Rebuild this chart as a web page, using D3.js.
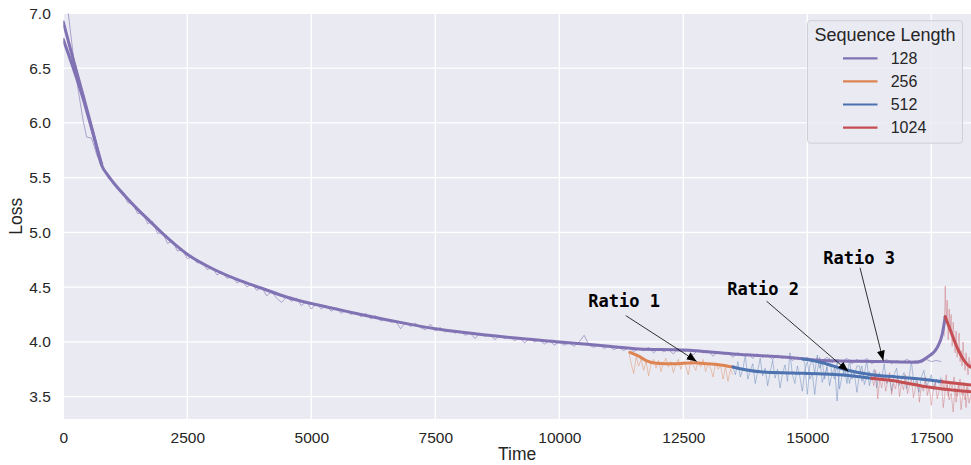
<!DOCTYPE html>
<html><head><meta charset="utf-8">
<script src="https://cdn.jsdelivr.net/npm/d3@7"></script>
<style>body{margin:0;background:#fff}svg{display:block}</style>
</head><body>
<script>
// ---------------- DATA ----------------
const seriesNames = ["128", "256", "512", "1024"];
const seriesColors = ["#8172B3", "#DD8452", "#4C72B0", "#C44E52"];
const xTicks = [0, 2500, 5000, 7500, 10000, 12500, 15000, 17500];
const yTicks = [3.5, 4.0, 4.5, 5.0, 5.5, 6.0, 6.5, 7.0];

// smoothed (thick) curves
const mainTime = [0,200,400,600,775,900,1000,1250,1500,1750,2000,2250,2500,3000,3500,4000,4500,5000,5500,6000,7000,7500,8000,9000,10000,11000,11600,12500,13500,14700,15300,16500,17200,17420,17620,17720,17780];
const mainLoss = [6.92,6.58,6.25,5.91,5.61,5.52,5.46,5.33,5.21,5.10,4.99,4.89,4.80,4.67,4.57,4.49,4.41,4.35,4.30,4.25,4.16,4.12,4.09,4.04,4.00,3.96,3.936,3.925,3.89,3.855,3.83,3.82,3.815,3.86,3.95,4.07,4.23];
const startTime = [0,200,400,600,775];
const startLoss = [6.76,6.50,6.22,5.90,5.62];
const orangeTime = [11425,11600,11750,11960,12300,12700,13000,13250,13500];
const orangeLoss = [3.905,3.87,3.83,3.805,3.80,3.81,3.80,3.79,3.77];
const blueATime = [13500,13750,14100,14700,15300,16000,16300];
const blueALoss = [3.77,3.745,3.725,3.716,3.707,3.685,3.667];
const redATime = [16300,16850,17400,17730,18300];
const redALoss = [3.667,3.637,3.59,3.57,3.545];
const blueBTime = [14900,15300,15790,16300,16800,17400,17720];
const blueBLoss = [3.845,3.81,3.744,3.70,3.68,3.655,3.637];
const redBTime = [17720,18300];
const redBLoss = [3.637,3.607];
const redCTime = [17780,17890,18020,18160,18260,18300];
const redCLoss = [4.23,4.10,3.95,3.83,3.78,3.77];

// raw (thin) curves
const rawPurpleEarlyTime = [0,100,200,300,400,470,570,680];
const rawPurpleEarlyLoss = [7.6,7.0,6.62,6.30,6.02,5.87,5.86,5.70];
const rawPurpleStart = 800, rawPurpleStep = 100;
const rawPurpleLoss = [5.60,5.50,5.47,5.39,5.36,5.27,5.26,5.17,5.18,5.08,5.10,4.99,5.00,4.90,4.92,4.83,4.84,4.76,4.78,4.72,4.73,4.66,4.68,4.61,4.64,4.58,4.60,4.54,4.56,4.50,4.53,4.47,4.50,4.42,4.46,4.40,4.36,4.41,4.37,4.40,4.33,4.37,4.30,4.35,4.30,4.33,4.28,4.31,4.26,4.29,4.25,4.27,4.23,4.26,4.21,4.24,4.19,4.21,4.18,4.19,4.12,4.18,4.14,4.17,4.13,4.11,4.16,4.10,4.13,4.09,4.11,4.08,4.10,4.06,4.08,4.03,4.08,4.05,4.07,4.02,4.06,4.03,4.05,4.01,4.04,3.99,4.03,4.00,4.02,3.98,4.01,3.97,4.00,3.97,3.99,3.96,4.00,4.06,3.97,3.95,3.98,3.94,3.96,3.93,3.95,3.92,3.95,3.91,3.94,3.92,3.95,3.90,3.94,3.91,3.93,3.89,3.94,3.91,3.92,3.88,3.93,3.90,3.92,3.87,3.91,3.89,3.90,3.86,3.90,3.88,3.89,3.85,3.89,3.86,3.88,3.84,3.88,3.85,3.87,3.83,3.86,3.84,3.86,3.82,3.85,3.83,3.86,3.81,3.84,3.82,3.85,3.80,3.84,3.81,3.85,3.80,3.83,3.81,3.84,3.80,3.83,3.81,3.84,3.82,3.83,3.81,3.84,3.82,3.83,3.82];
const rawOrangeStart = 11400, rawOrangeStep = 50;
const rawOrangeLoss = [3.91,3.80,3.71,3.86,3.78,3.84,3.74,3.82,3.69,3.80,3.84,3.76,3.83,3.73,3.81,3.85,3.77,3.82,3.72,3.80,3.84,3.75,3.82,3.78,3.70,3.83,3.79,3.74,3.82,3.77,3.84,3.73,3.80,3.76,3.68,3.81,3.75,3.79,3.66,3.77,3.64,3.75,3.70];
const rawBlueAStart = 13500, rawBlueAStep = 50;
const rawBlueALoss = [3.77,3.70,3.82,3.68,3.75,3.88,3.66,3.74,3.80,3.62,3.73,3.85,3.69,3.76,3.60,3.72,3.83,3.67,3.75,3.58,3.71,3.79,3.64,3.90,3.70,3.62,3.78,3.68,3.55,3.74,3.82,3.66,3.71,3.52,3.73,3.86,3.63,3.70,3.77,3.60,3.72,3.66,3.81,3.57,3.69,3.75,3.62,3.84,3.66,3.71,3.54,3.70,3.78,3.61,3.68,3.73,3.65];
const rawBlueBStart = 14900, rawBlueBStep = 50;
const rawBlueBLoss = [3.86,3.80,3.52,3.78,3.84,3.72,3.88,3.76,3.82,3.66,3.79,3.85,3.70,3.77,3.46,3.74,3.81,3.68,3.76,3.62,3.73,3.70,3.78,3.78,3.64,3.71,3.83,3.60,3.69,3.75,3.58,3.72,3.66,3.80,3.62,3.68,3.55,3.70,3.76,3.60,3.66,3.72,3.57,3.67,3.82,3.61,3.65,3.54,3.68,3.74,3.59,3.64,3.70,3.56,3.66,3.62,3.68];
const rawRedAStart = 16300, rawRedAStep = 40;
const rawRedALoss = [3.68,3.60,3.74,3.48,3.66,3.58,3.70,3.55,3.64,3.72,3.52,3.62,3.57,3.68,3.50,3.63,3.56,3.70,3.53,3.60,3.66,3.49,3.58,3.64,3.45,3.61,3.55,3.68,3.51,3.59,3.42,3.57,3.63,3.48,3.56,3.66,3.40,3.55,3.61,3.47,3.53,3.36,3.58,3.50,3.62,3.38,3.54,3.47,3.60,3.44,3.52];
const rawRedBStart = 17720, rawRedBStep = 40;
const rawRedBLoss = [3.66,3.55,3.70,3.50,3.62,3.58,3.68,3.45,3.60,3.66,3.52,3.63,3.40,3.58,3.55];
const rawRedCStart = 17760, rawRedCStep = 20;
const rawRedCLoss = [4.05,4.51,4.20,4.38,4.02,4.30,4.12,4.25,3.96,4.18,4.05,3.90,4.10,3.86,3.98,4.08,3.82,3.92,3.78,4.00,3.84,3.74,3.90,3.80,3.70,3.86,3.76,3.82];

// annotations (data coordinates)
const annoLabels = ["Ratio 1", "Ratio 2", "Ratio 3"];
const annoTextTime = [10584, 13386, 15322];
const annoTextLoss = [4.323, 4.424, 4.713];
const annoFromTime = [11340, 14180, 16062];
const annoFromLoss = [4.24, 4.371, 4.677];
const annoToTime = [12770, 15826, 16531];
const annoToLoss = [3.822, 3.731, 3.829];

// ---------------- CHART ----------------
const W = 971, H = 465;
const L = 63.3, R = 971, T = 13.3, B = 419;
const textColor = "#262626";
const font = "'Liberation Sans', Arial, sans-serif";

const svg = d3.select("body").append("svg").attr("width", W).attr("height", H);
const x = d3.scaleLinear().domain([0, 18300]).range([L, R]);
const y = d3.scaleLinear().domain([3.296, 7.0]).range([B, T]);

svg.append("rect").attr("x", L).attr("y", T).attr("width", R - L).attr("height", B - T).attr("fill", "#EAEAF2");

// grid
svg.append("g").selectAll("line").data(xTicks).join("line")
  .attr("x1", d => x(d)).attr("x2", d => x(d)).attr("y1", T).attr("y2", B)
  .attr("stroke", "#fff").attr("stroke-width", 1.3);
svg.append("g").selectAll("line").data(yTicks).join("line")
  .attr("x1", L).attr("x2", R).attr("y1", d => y(d)).attr("y2", d => y(d))
  .attr("stroke", "#fff").attr("stroke-width", 1.3);

// axes
const xAxis = svg.append("g").attr("transform", `translate(0,${B})`)
  .call(d3.axisBottom(x).tickValues(xTicks).tickSize(0).tickPadding(12.5).tickFormat(d3.format("d")));
const yAxis = svg.append("g").attr("transform", `translate(${L},0)`)
  .call(d3.axisLeft(y).tickValues(yTicks).tickSize(0).tickPadding(12.5).tickFormat(d3.format(".1f")));
[xAxis, yAxis].forEach(a => {
  a.select(".domain").remove();
  a.selectAll("text").attr("font-family", font).attr("font-size", "15.5px").attr("fill", textColor);
});

svg.append("text").attr("x", (L + R) / 2).attr("y", 460).attr("text-anchor", "middle")
  .attr("font-family", font).attr("font-size", "17.5px").attr("fill", textColor).text("Time");
svg.append("text").attr("transform", `translate(21.5,${(T + B) / 2}) rotate(-90)`).attr("text-anchor", "middle")
  .attr("font-family", font).attr("font-size", "17.5px").attr("fill", textColor).text("Loss");

// clip
svg.append("clipPath").attr("id", "clip").append("rect")
  .attr("x", L).attr("y", T).attr("width", R - L).attr("height", B - T);
const plot = svg.append("g").attr("clip-path", "url(#clip)");

const pairs = (ts, vs) => ts.map((t, i) => [t, vs[i]]);
const stepped = (start, step, vs) => vs.map((v, i) => [start + i * step, v]);
const rawLine = d3.line().x(d => x(d[0])).y(d => y(d[1]));
const smoothLine = d3.line().x(d => x(d[0])).y(d => y(d[1])).curve(d3.curveMonotoneX);

const raws = [
  {d: pairs(rawPurpleEarlyTime, rawPurpleEarlyLoss).concat(stepped(rawPurpleStart, rawPurpleStep, rawPurpleLoss)), c: 0, o: 0.6},
  {d: stepped(rawOrangeStart, rawOrangeStep, rawOrangeLoss), c: 1, o: 0.42},
  {d: stepped(rawBlueAStart, rawBlueAStep, rawBlueALoss), c: 2, o: 0.4},
  {d: stepped(rawBlueBStart, rawBlueBStep, rawBlueBLoss), c: 2, o: 0.4},
  {d: stepped(rawRedAStart, rawRedAStep, rawRedALoss), c: 3, o: 0.35},
  {d: stepped(rawRedBStart, rawRedBStep, rawRedBLoss), c: 3, o: 0.35},
  {d: stepped(rawRedCStart, rawRedCStep, rawRedCLoss), c: 3, o: 0.35}
];
plot.append("g").selectAll("path").data(raws).join("path")
  .attr("d", r => rawLine(r.d)).attr("fill", "none")
  .attr("stroke", r => seriesColors[r.c]).attr("stroke-opacity", r => r.o).attr("stroke-width", 1);

const smooths = [
  {d: pairs(startTime, startLoss), c: 0},
  {d: pairs(mainTime, mainLoss), c: 0},
  {d: pairs(orangeTime, orangeLoss), c: 1},
  {d: pairs(blueATime, blueALoss), c: 2},
  {d: pairs(blueBTime, blueBLoss), c: 2},
  {d: pairs(redATime, redALoss), c: 3},
  {d: pairs(redBTime, redBLoss), c: 3},
  {d: pairs(redCTime, redCLoss), c: 3}
];
plot.append("g").selectAll("path").data(smooths).join("path")
  .attr("d", s => smoothLine(s.d)).attr("fill", "none")
  .attr("stroke", s => seriesColors[s.c]).attr("stroke-width", 3).attr("stroke-linecap", "round");

// annotations
const defs = svg.append("defs");
defs.append("marker").attr("id", "arrow").attr("viewBox", "0 0 10 8")
  .attr("refX", 10).attr("refY", 4).attr("markerWidth", 10).attr("markerHeight", 8)
  .attr("markerUnits", "userSpaceOnUse").attr("orient", "auto")
  .append("path").attr("d", "M0,0L10,4L0,8Z").attr("fill", "#000");

const annos = annoLabels.map((l, i) => ({l, i}));
svg.append("g").selectAll("line").data(annos).join("line")
  .attr("x1", a => x(annoFromTime[a.i])).attr("y1", a => y(annoFromLoss[a.i]))
  .attr("x2", a => x(annoToTime[a.i])).attr("y2", a => y(annoToLoss[a.i]))
  .attr("stroke", "#000").attr("stroke-width", 0.8).attr("marker-end", "url(#arrow)");
svg.append("g").selectAll("text").data(annos).join("text")
  .attr("x", a => x(annoTextTime[a.i])).attr("y", a => y(annoTextLoss[a.i]))
  .attr("font-family", "'DejaVu Sans Mono', monospace").attr("font-weight", "bold")
  .attr("font-size", "17px").attr("fill", "#000").text(a => a.l);

// legend
const lg = svg.append("g");
lg.append("rect").attr("x", 807.5).attr("y", 20.7).attr("width", 155).attr("height", 122.5)
  .attr("rx", 3).attr("fill", "#EAEAF2").attr("fill-opacity", 0.8).attr("stroke", "#cfcfd6").attr("stroke-width", 1);
lg.append("text").attr("x", 885).attr("y", 41).attr("text-anchor", "middle")
  .attr("font-family", font).attr("font-size", "18px").attr("fill", textColor).text("Sequence Length");
const items = lg.selectAll("g.item").data(seriesNames).join("g").attr("class", "item")
  .attr("transform", (d, i) => `translate(0,${58.3 + i * 23.1})`);
items.append("line").attr("x1", 843).attr("x2", 877.5).attr("y1", 0).attr("y2", 0)
  .attr("stroke", (d, i) => seriesColors[i]).attr("stroke-width", 2.2);
items.append("text").attr("x", 890.7).attr("y", 0).attr("dy", "0.35em")
  .attr("font-family", font).attr("font-size", "16px").attr("fill", textColor).text(d => d);
</script>
</body></html>
